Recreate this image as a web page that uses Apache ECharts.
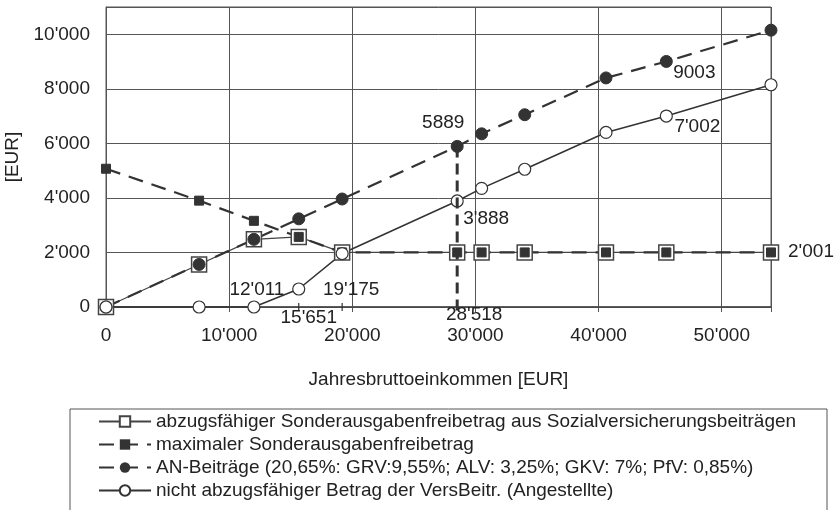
<!DOCTYPE html>
<html>
<head>
<meta charset="utf-8">
<script src="https://cdn.jsdelivr.net/npm/echarts@6/dist/echarts.min.js"></script>
<style>
  html, body { margin: 0; padding: 0; background: #fff; }
  #chart { width: 837px; height: 510px; }
</style>
</head>
<body>
<div id="chart"></div>
<script>
    // Jahresbruttoeinkommen (x) der Stuetzstellen
    let einkommen = [0, 7560, 12011, 15651, 19175, 28518, 30500, 34000, 40600, 45500, 54000]
    let abzugsfaehig = [0, 1561, 2480, 2570, 2001, 2001, 2001, 2001, 2001, 2001, 2001]
    let maximal = [5070, 3900, 3160, 2570, 2001, 2001, 2001, 2001, 2001, 2001, 2001]
    let anBeitraege = [0, 1561, 2480, 3232, 3960, 5889, 6350, 7050, 8400, 9003, 10150]
    let nichtAbzug = [0, 0, 0, 660, 1960, 3888, 4350, 5050, 6400, 7002, 8150]
    let seriesNames = [
        'abzugsfähiger Sonderausgabenfreibetrag aus Sozialversicherungsbeiträgen',
        'maximaler Sonderausgabenfreibetrag',
        'AN-Beiträge (20,65%: GRV:9,55%; ALV: 3,25%; GKV: 7%; PfV: 0,85%)',
        'nicht abzugsfähiger Betrag der VersBeitr. (Angestellte)'
    ]
    let xTicks = [0, 10000, 20000, 30000, 40000, 50000]
    let yTicks = [0, 2000, 4000, 6000, 8000, 10000]
    let markerX = [15651, 19175]   // kleine Striche an der x-Achse
    let grenzeX = 28518            // senkrechte Linie

    const ink = '#333'
    const font = 'Liberation Sans, Arial, sans-serif'
    const fs = 19

    function fmt(v) {
        return String(v).replace(/\B(?=(\d{3})+(?!\d))/g, "'")
    }
    function pairs(ys) {
        return einkommen.map((x, i) => [x, ys[i]])
    }
    function note(x, y, text, dx, dy) {
        return {
            coord: [x, y],
            value: text,
            label: { show: true, formatter: text, offset: [dx, dy], position: 'inside',
                color: '#222', fontSize: fs, fontFamily: font }
        }
    }
    const hidden = { symbol: 'circle', symbolSize: 1, itemStyle: { color: 'transparent' } }

    let chart = echarts.init(document.getElementById('chart'))
    chart.setOption({
        animation: false,
        backgroundColor: '#fff',
        grid: { left: 106, right: 66, top: 7, bottom: 203, outerBoundsMode: 'none',
            show: true, borderColor: '#555', borderWidth: 1 },
        xAxis: {
            type: 'value', min: 0, max: 54000, interval: 10000,
            name: 'Jahresbruttoeinkommen [EUR]', nameLocation: 'middle', nameGap: 63,
            nameTextStyle: { color: '#222', fontSize: fs, fontFamily: font },
            axisLine: { show: true, onZero: false, lineStyle: { color: '#444', width: 1.5 } },
            axisTick: { show: true, length: 5, lineStyle: { color: '#555' } },
            axisLabel: { color: '#222', fontSize: fs, fontFamily: font, margin: 19,
                formatter: v => xTicks.indexOf(v) >= 0 ? fmt(v) : '' },
            splitLine: { show: true, lineStyle: { color: '#555', width: 1 } }
        },
        yAxis: {
            type: 'value', min: 0, max: 11000, interval: 2000,
            name: '[EUR]', nameLocation: 'middle', nameGap: 79, nameRotate: 90,
            nameTextStyle: { color: '#222', fontSize: fs, fontFamily: font },
            axisLine: { show: true, lineStyle: { color: '#555' } },
            axisTick: { show: false },
            axisLabel: { color: '#222', fontSize: fs, fontFamily: font, margin: 16,
                formatter: v => yTicks.indexOf(v) >= 0 ? fmt(v) : '' },
            splitLine: { show: true, lineStyle: { color: '#555', width: 1 } }
        },
        legend: {
            orient: 'vertical', left: 70, top: 409,
            padding: [3, 0, 0, 28],
            itemWidth: 52, itemHeight: 13, itemGap: 4,
            textStyle: { color: '#222', fontSize: fs, fontFamily: font, lineHeight: 19 },
            data: seriesNames
        },
        series: [
            {
                name: seriesNames[0], type: 'line', data: pairs(abzugsfaehig),
                symbol: 'rect', symbolSize: 15, showAllSymbol: true,
                lineStyle: { color: '#444', width: 1.2 },
                itemStyle: { color: '#fff', borderColor: '#444', borderWidth: 1.5 },
                markPoint: Object.assign({ data: [note(54000, 2001, "2'001", 40, -1)] }, hidden)
            },
            {
                name: seriesNames[1], type: 'line', data: pairs(maximal),
                symbol: 'rect', symbolSize: 9, showAllSymbol: true,
                lineStyle: { color: ink, width: 2.2, type: [15, 9] },
                itemStyle: { color: ink, borderColor: ink }
            },
            {
                name: seriesNames[2], type: 'line', data: pairs(anBeitraege),
                symbol: 'circle', symbolSize: 12, showAllSymbol: true,
                lineStyle: { color: ink, width: 2.2, type: [15, 9] },
                itemStyle: { color: ink, borderColor: ink },
                markPoint: Object.assign({
                    data: [
                        note(28518, 5889, '5889', -14, -24),
                        note(45500, 9003, '9003', 28, 11)
                    ]
                }, hidden)
            },
            {
                name: seriesNames[3], type: 'line', data: pairs(nichtAbzug),
                symbol: 'circle', symbolSize: 12, showAllSymbol: true,
                lineStyle: { color: ink, width: 1.5 },
                itemStyle: { color: '#fff', borderColor: ink, borderWidth: 1.2 },
                markPoint: Object.assign({
                    data: [
                        note(28518, 3888, "3'888", 29, 18),
                        note(45500, 7002, "7'002", 31, 11),
                        note(12011, 0, "12'011", 3, -17),
                        note(19175, 0, "19'175", 9, -17),
                        note(15651, 0, "15'651", 10, 11),
                        note(28518, 0, "28'518", 17, 8)
                    ]
                }, hidden)
            }
        ]
    })

    // Legendenrahmen (unten abgeschnitten) und Linien, die ueber die Achse hinausgehen
    let pOben = chart.convertToPixel({ gridIndex: 0 }, [grenzeX, anBeitraege[einkommen.indexOf(grenzeX)]])
    let pUnten = chart.convertToPixel({ gridIndex: 0 }, [grenzeX, 0])
    let graphics = [
        {
            type: 'rect', shape: { x: 70, y: 409, width: 757, height: 140 },
            style: { fill: 'none', stroke: '#555', lineWidth: 1 }, z: -1
        },
        {
            type: 'line', shape: { x1: pOben[0], y1: pOben[1], x2: pUnten[0], y2: pUnten[1] + 4 },
            style: { stroke: ink, lineWidth: 3, lineDash: [11, 6] }, z: 5
        }
    ]
    markerX.forEach(function (x) {
        let p = chart.convertToPixel({ gridIndex: 0 }, [x, 0])
        graphics.push({
            type: 'line', shape: { x1: p[0], y1: p[1] - 4, x2: p[0], y2: p[1] + 4 },
            style: { stroke: ink, lineWidth: 1.2 }, z: 5
        })
    })
    chart.setOption({ graphic: graphics })

    window.addEventListener('resize', function () {
        chart.resize()
    })
</script>
</body>
</html>
